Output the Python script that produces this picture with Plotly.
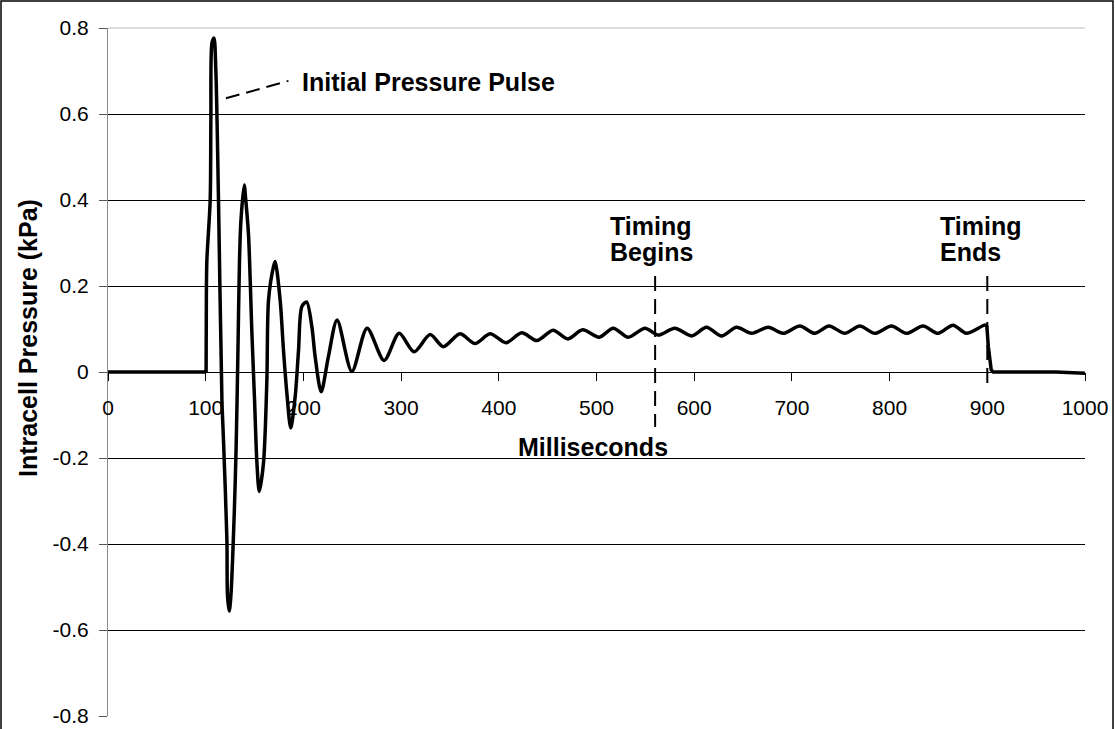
import plotly.graph_objects as go

# ---- data ----
base_t = [0, 100.4]
base_p = [0.0, 0.0]

wave_t = [100.4, 100.7, 101.2, 104.6, 105.3, 106.4, 108.5, 110.4, 113.1, 116.6,
          118.2, 121.7, 122.3, 124.1, 125.8, 129.2, 131.2, 133.0, 134.5, 136.0,
          139.4, 141.0, 143.8, 147.3, 150.0, 152.4, 154.8, 159.2, 162.6, 164.3,
          169.4, 171.1, 176.2, 179.6, 183.1, 187.0, 191.6, 195.0, 198.4, 203.3,
          208.7, 212.0, 218.2, 225.6, 234.5, 249.6, 265.2, 282.6, 298.0, 313.3,
          329.7, 343.3, 360.3, 375.7, 391.0, 407.4, 423.4, 439.1, 455.5, 470.8,
          485.8, 502.8, 517.1, 532.5, 549.6, 563.2, 580.2, 597.3, 612.6, 628.0,
          643.3, 658.7, 675.7, 691.0, 708.1, 723.4, 738.0, 754.1, 769.5, 784.8,
          801.9, 817.2, 834.2, 849.6, 864.9, 878.6, 897.0, 899.5]
wave_p = [0.0, 0.18, 0.26, 0.40, 0.59, 0.765, 0.777, 0.70, 0.40, -0.065,
          -0.158, -0.39, -0.52, -0.556, -0.52, -0.33, -0.17, 0.05, 0.25, 0.35,
          0.435, 0.40, 0.32, 0.09, -0.065, -0.21, -0.278, -0.21, -0.02, 0.167,
          0.245, 0.257, 0.167, 0.051, -0.05, -0.13, -0.057, 0.05, 0.152, 0.163,
          0.105, 0.036, -0.046, 0.036, 0.121, 0.001, 0.102, 0.027, 0.090, 0.047,
          0.087, 0.059, 0.089, 0.066, 0.089, 0.068, 0.091, 0.073, 0.097, 0.077,
          0.098, 0.081, 0.102, 0.081, 0.102, 0.086, 0.102, 0.084, 0.104, 0.084,
          0.104, 0.090, 0.104, 0.090, 0.107, 0.090, 0.107, 0.090, 0.107, 0.090,
          0.107, 0.090, 0.107, 0.090, 0.109, 0.090, 0.109, 0.108]

tail_t = [899.5, 901.0, 904.0, 906.0, 970.0, 1000.0]
tail_p = [0.108, 0.06, 0.005, 0.0, 0.0, -0.003]

x_ticks = [0, 100, 200, 300, 400, 500, 600, 700, 800, 900, 1000]
y_ticks = [-0.8, -0.6, -0.4, -0.2, 0, 0.2, 0.4, 0.6, 0.8]
y_tick_text = ["-0.8", "-0.6", "-0.4", "-0.2", "0", "0.2", "0.4", "0.6", "0.8"]

timing_begin = 560
timing_end = 900
pulse_label_line_t = [120.7, 184.7]
pulse_label_line_p = [0.6365, 0.677]

# ---- figure ----
W, H = 1115, 729
L, R, T, B = 108, 30, 28, 13
pw, ph = W - L - R, H - T - B


def px_x(px):
    return (px - L) / pw


def px_y(py):
    return (H - B - py) / ph


fig = go.Figure()
line_style = dict(color="black", width=3.5)
fig.add_trace(go.Scatter(x=base_t, y=base_p, mode="lines", line=line_style,
                         showlegend=False, hoverinfo="skip"))
fig.add_trace(go.Scatter(x=wave_t, y=wave_p, mode="lines",
                         line=dict(color="black", width=3.5, shape="spline", smoothing=0.8),
                         showlegend=False))
fig.add_trace(go.Scatter(x=tail_t, y=tail_p, mode="lines", line=line_style,
                         showlegend=False, hoverinfo="skip"))

tick_font = dict(family="Liberation Sans, Arial, sans-serif", size=21, color="black")
bold_font = dict(family="Liberation Sans, Arial, sans-serif", size=25, color="black", weight="bold")

fig.update_layout(
    width=W, height=H,
    margin=dict(l=L, r=R, t=T, b=B, autoexpand=False),
    paper_bgcolor="white", plot_bgcolor="white",
    xaxis=dict(range=[0, 1000], tickvals=x_ticks, ticks="outside", ticklen=8,
               tickcolor="black", tickwidth=1, showgrid=False, zeroline=False,
               showline=True, linecolor="black", linewidth=1,
               anchor="free", position=0.5, tickfont=tick_font,
               ticklabelstandoff=9, ticklabeloverflow="allow"),
    yaxis=dict(range=[-0.8, 0.8], tickvals=y_ticks, ticktext=y_tick_text,
               ticks="outside", ticklen=8, tickcolor="#555555", tickwidth=1,
               showgrid=True, gridcolor="black", gridwidth=1,
               zeroline=True, zerolinecolor="black", zerolinewidth=1,
               showline=True, linecolor="#888888", linewidth=1,
               tickfont=tick_font, ticklabelstandoff=6, ticklabeloverflow="allow"),
)

# dashed marker lines
dash_line = dict(color="black", width=2, dash="15px,8px")
fig.add_shape(type="line", xref="x", yref="y", x0=timing_begin, x1=timing_begin,
              y0=0.223, y1=-0.128, line=dash_line)
fig.add_shape(type="line", xref="x", yref="y", x0=timing_end, x1=timing_end,
              y0=0.223, y1=-0.034, line=dash_line)
fig.add_shape(type="line", xref="x", yref="y",
              x0=pulse_label_line_t[0], x1=pulse_label_line_t[1],
              y0=pulse_label_line_p[0], y1=pulse_label_line_p[1],
              line=dict(color="black", width=2, dash="14px,7px"))

# light top border of the plot area
fig.add_shape(type="line", xref="paper", yref="paper", x0=0, x1=1, y0=1, y1=1,
              line=dict(color="#bbbbbb", width=1))

# outer frame
fig.add_shape(type="rect", xref="paper", yref="paper",
              x0=px_x(1), x1=px_x(1113), y0=px_y(745), y1=px_y(1),
              line=dict(color="black", width=1.5))


def label(text, px, py, xanchor="left", angle=0):
    fig.add_annotation(text=text, xref="paper", yref="paper", x=px_x(px), y=px_y(py),
                       xanchor=xanchor, yanchor="middle", showarrow=False,
                       font=bold_font, textangle=angle)


label("Initial Pressure Pulse", 300, 82)
label("Timing", 608, 226)
label("Begins", 608, 252)
label("Timing", 938, 226)
label("Ends", 938, 252)
label("Milliseconds", 516, 447)
label("Intracell Pressure (kPa)", 28, 338, xanchor="center", angle=-90)

# remove the default page margin so the figure sits at the window's corner
fig.write_html("out.html", config={"displayModeBar": False},
               post_script="document.body.style.margin='0';")
